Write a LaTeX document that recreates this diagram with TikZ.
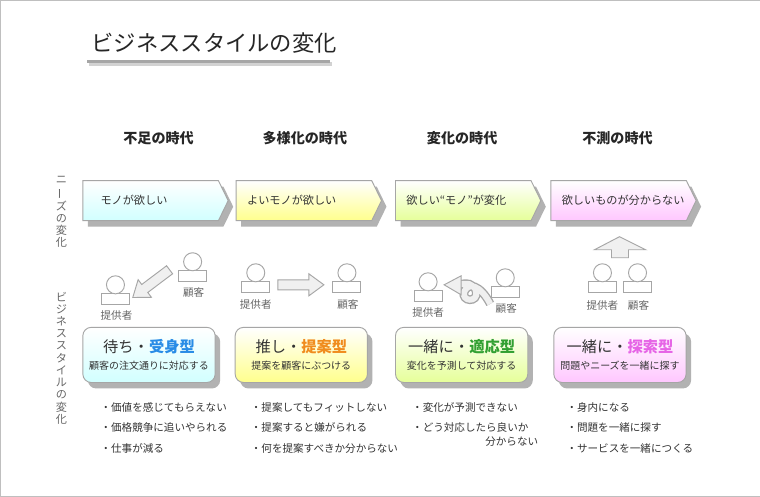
\documentclass[tikz,border=0pt]{standalone}
\usepackage{fontspec}
\setmainfont{Noto Sans CJK JP}
\usetikzlibrary{shapes.symbols,shadows}

\definecolor{typeblue}{RGB}{40,140,230}
\definecolor{typeorange}{RGB}{240,140,30}
\definecolor{typegreen}{RGB}{50,160,50}
\definecolor{typepink}{RGB}{230,100,230}

\tikzset{
  needbox/.style={signal, signal to=east, signal pointer angle=128, draw=gray!70, thick,
    minimum width=43.5mm, minimum height=12mm, text width=34mm, align=left, anchor=west,
    font=\fontsize{9.5}{11}\selectfont, text=black!80,
    drop shadow={shadow xshift=1.5mm, shadow yshift=-1.8mm, fill=gray!60, opacity=1}},
  stylebox/.style={draw=gray!70, thick, rounded corners=2.5mm, minimum width=39.6mm,
    minimum height=16.5mm, align=center, anchor=north west, text=black!80,
    drop shadow={shadow xshift=1.5mm, shadow yshift=-1.8mm, fill=gray!60, opacity=1}},
  personline/.style={draw=gray!70, thick, fill=white},
  bigarrow/.style={draw=gray!70, thick, fill=gray!12},
  pics/blockarrow/.style={code={
    \draw[bigarrow] (0,-5) -- (#1-15,-5) -- (#1-15,-11) -- (#1,0) -- (#1-15,11) -- (#1-15,5) -- (0,5) -- cycle;}},
  era/.style={font=\bfseries\fontsize{12}{14}\selectfont, text=black!85},
  bullet/.style={anchor=west, font=\fontsize{9}{11}\selectfont, text=black!80},
  tag/.style={font=\fontsize{9}{10}\selectfont, text=gray!80!black},
  sidelabel/.style={align=center, anchor=north, font=\fontsize{9.5}{10.4}\selectfont, text=gray!80!black}
}

% a person: head and body, y grows downward
\newcommand{\person}[2]{%
  \draw[personline] (#1-14,#2+9) rectangle (#1+14,#2+20);
  \draw[personline] (#1,#2) circle (9);}

\begin{document}
\begin{tikzpicture}[x=0.3mm,y=-0.3mm]

    % Frame
    \draw[gray!50, fill=white] (1,1) rectangle (759,496);

    % Title
    \node[anchor=west, font=\fontsize{19}{22}\selectfont, text=black!85] (title) at (88,44) {ビジネススタイルの変化};
    \draw[gray!35, line width=1.2mm] (90,65) -- (332,65);
    \draw[gray!70, line width=0.9mm] (88,62) -- (330,62);

    % Side labels
    \node[sidelabel] (needlabel) at (62,173) {ニ\\\rotatebox[origin=c]{90}{ー}\\ズ\\の\\変\\化};
    \node[sidelabel] (bizlabel) at (62,288) {ビ\\ジ\\ネ\\ス\\ス\\タ\\イ\\ル\\の\\変\\化};

    % Eras
    \node[era] (era1) at (159,139) {不足の時代};
    \node[era] (era2) at (305,139) {多様化の時代};
    \node[era] (era3) at (462,139) {変化の時代};
    \node[era] (era4) at (617,139) {不測の時代};

    % Needs
    \node[needbox, top color=white, bottom color=cyan!18] (need1) at (83,201) {\hspace*{2mm}モノが欲しい};
    \node[needbox, top color=white, bottom color=yellow!45] (need2) at (236,201) {よいモノが欲しい};
    \node[needbox, top color=white, bottom color=lime!40] (need3) at (395,201) {欲しい“モノ”が変化};
    \node[needbox, top color=white, bottom color=magenta!22] (need4) at (550,201) {欲しいものが分からない};

    % Providers and customers
    \person{116}{285} \node[tag] (prov1) at (117,316) {提供者};
    \person{193}{262} \node[tag] (cust1) at (194,293) {顧客};
    \pic[rotate=217] at (170,270) {blockarrow=46};

    \person{256}{273} \node[tag] (prov2) at (256,305) {提供者};
    \person{347}{273} \node[tag] (cust2) at (348,305) {顧客};
    \pic at (278,285) {blockarrow=46};

    \person{428}{282} \node[tag] (prov3) at (428,313) {提供者};
    \person{505}{278} \node[tag] (cust3) at (506,309) {顧客};
    \draw[gray!70, line width=2.6mm] (490,304) .. controls (480,285) and (468,282) .. (464,292) .. controls (461,302) and (478,303) .. (476,292) .. controls (474,283) and (466,283) .. (458,285);
    \draw[gray!12, line width=1.8mm] (490,304) .. controls (480,285) and (468,282) .. (464,292) .. controls (461,302) and (478,303) .. (476,292) .. controls (474,283) and (466,283) .. (458,285);
    \draw[bigarrow] (461,276) -- (444,285) -- (461,295) -- cycle;

    \person{602}{273} \node[tag] (prov4) at (602,306) {提供者};
    \person{637}{273} \node[tag] (cust4) at (638,306) {顧客};
    \draw[bigarrow] (611,258) -- (611,250) -- (594,250) -- (619,237) -- (645,250) -- (628,250) -- (628,258) -- cycle;

    % Business styles
    \node[stylebox, top color=white, bottom color=cyan!18] (style1) at (83,327)
      {{\fontsize{13}{16}\selectfont 待ち・\textcolor{typeblue}{\bfseries 受身型}}\\[1mm]{\fontsize{8.5}{10}\selectfont 顧客の注文通りに対応する}};
    \node[stylebox, top color=white, bottom color=yellow!45] (style2) at (235,327)
      {{\fontsize{13}{16}\selectfont 推し・\textcolor{typeorange}{\bfseries 提案型}}\\[1mm]{\fontsize{8.5}{10}\selectfont 提案を顧客にぶつける}};
    \node[stylebox, top color=white, bottom color=lime!40] (style3) at (395,327)
      {{\fontsize{13}{16}\selectfont 一緒に・\textcolor{typegreen}{\bfseries 適応型}}\\[1mm]{\fontsize{8.5}{10}\selectfont 変化を予測して対応する}};
    \node[stylebox, top color=white, bottom color=magenta!22] (style4) at (553,327)
      {{\fontsize{13}{16}\selectfont 一緒に・\textcolor{typepink}{\bfseries 探索型}}\\[1mm]{\fontsize{8.5}{10}\selectfont 問題やニーズを一緒に探す}};

    % Consequences
    \node[bullet] (res1a) at (97,407) {・価値を感じてもらえない};
    \node[bullet] (res1b) at (97,427) {・価格競争に追いやられる};
    \node[bullet] (res1c) at (97,448) {・仕事が減る};
    \node[bullet] (res2a) at (247,407) {・提案してもフィットしない};
    \node[bullet] (res2b) at (247,427) {・提案すると嫌がられる};
    \node[bullet] (res2c) at (247,448) {・何を提案すべきか分からない};
    \node[bullet] (res3a) at (408,407) {・変化が予測できない};
    \node[bullet] (res3b) at (408,427) {・どう対応したら良いか};
    \node[bullet, anchor=east] (res3c) at (542,441) {分からない};
    \node[bullet] (res4a) at (562,407) {・身内になる};
    \node[bullet] (res4b) at (562,427) {・問題を一緒に探す};
    \node[bullet] (res4c) at (562,448) {・サービスを一緒につくる};

\end{tikzpicture}
\end{document}
